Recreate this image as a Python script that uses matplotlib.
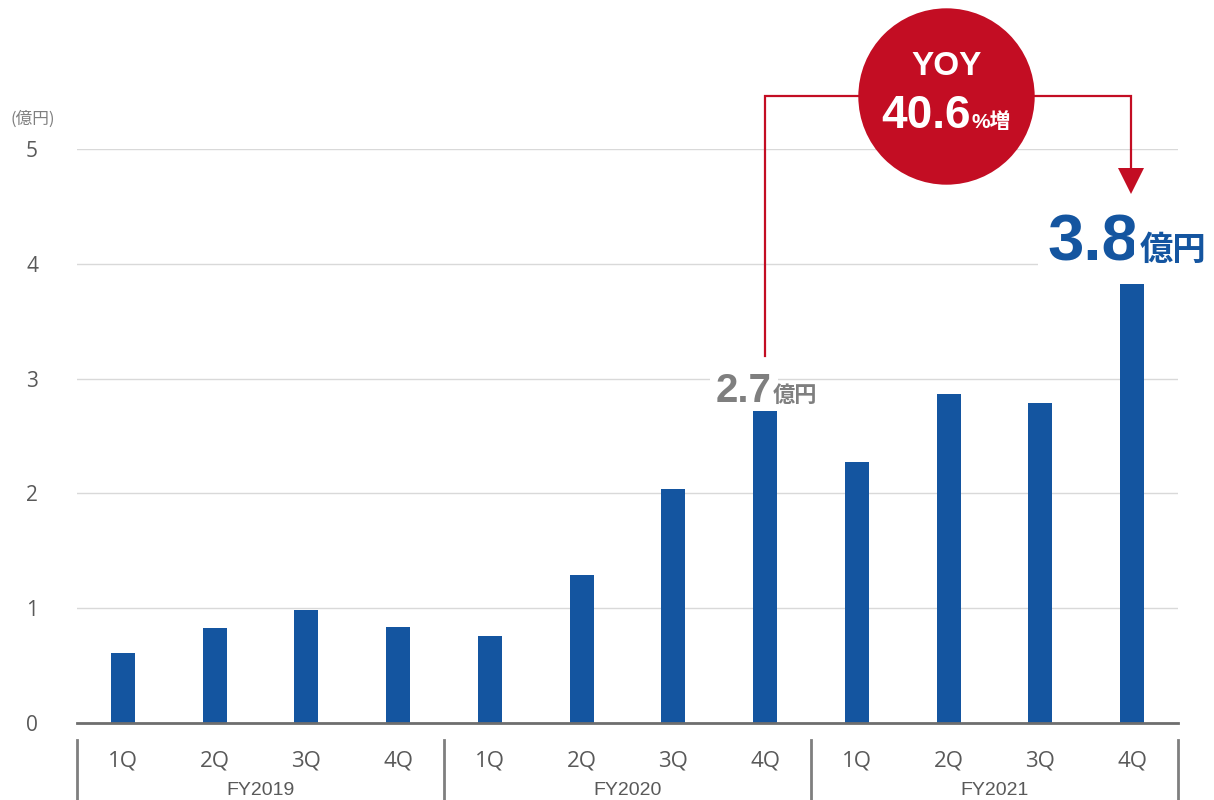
import matplotlib
matplotlib.use("Agg")
import matplotlib.pyplot as plt
from matplotlib.lines import Line2D
import matplotlib.transforms as mtransforms

quarters = ["1Q", "2Q", "3Q", "4Q"] * 3
fiscal_years = ["FY2019", "FY2020", "FY2021"]
values = [0.61, 0.83, 0.98, 0.84, 0.76, 1.29, 2.04, 2.72, 2.27, 2.87, 2.79, 3.82]
yticks = [0, 1, 2, 3, 4, 5]
unit_label = "(億円)"
label_prev = "2.7"
label_curr = "3.8"
yoy_value = "40.6"

BLUE = "#1455a0"
RED = "#c30d23"
GRAY_TXT = "#595959"
CJK = ["Liberation Sans", "Noto Sans CJK JP"]

fig = plt.figure(figsize=(12.14, 8.0), dpi=100)
ax = fig.add_axes([77/1214, 1-723/800, (1178-77)/1214, (723-149)/800])

x = list(range(len(values)))
ax.bar(x, values, width=0.26, color=BLUE, zorder=2)
ax.set_xlim(-0.5, len(values) - 0.5)
ax.set_ylim(0, 5)
ax.set_yticks(yticks)
ax.set_yticklabels([str(v) for v in yticks], fontsize=15, color=GRAY_TXT, family="Open Sans")
ax.tick_params(axis="y", length=0, pad=28)
ax.grid(axis="y", color="#d9d9d9", linewidth=1, zorder=0)
ax.set_axisbelow(True)
for s in ["left", "right", "top"]:
    ax.spines[s].set_visible(False)
ax.spines["bottom"].set_color("#6e6e6e")
ax.spines["bottom"].set_linewidth(2)
ax.spines["bottom"].set_zorder(3)

ax.set_xticks(x)
ax.set_xticklabels(quarters, fontsize=16, color=GRAY_TXT, family="Open Sans")
ax.tick_params(axis="x", length=0, pad=20)

trans = mtransforms.blended_transform_factory(ax.transData, ax.transAxes)
for i, fy in enumerate(fiscal_years):
    ax.text(i*4 + 1.5, -0.118, fy, transform=trans, ha="center", va="center",
            fontsize=14, color=GRAY_TXT, family="Liberation Sans")
for b in range(len(fiscal_years) + 1):
    ax.add_line(Line2D([b*4 - 0.5, b*4 - 0.5], [-0.03, -0.14], transform=trans,
                       color="#7f7f7f", linewidth=2, clip_on=False))

fig.text(10/1214, 1-119/800, unit_label, fontsize=12, color="#7f7f7f",
         family=["Noto Sans CJK JP"], ha="left", va="center")

# Connector line
ax.plot([7, 7, 10.99, 10.99], [3.2, 5.46, 5.46, 4.84], color=RED, linewidth=1.6,
        clip_on=False, zorder=4, solid_joinstyle="miter")
ax.plot([10.99], [4.72], marker="v", markersize=19, color=RED, clip_on=False,
        zorder=4, markeredgewidth=0)
# Circle
ax.plot([8.97], [5.46], marker="o", markersize=127, color=RED, clip_on=False,
        zorder=5, markeredgewidth=0)
ax.text(8.98, 5.645, "YOY", ha="center", va="baseline", fontsize=24, fontweight="bold",
        color="white", family=CJK, zorder=6, clip_on=False)
ax.text(9.24, 5.18, yoy_value, ha="right", va="baseline", fontsize=33, fontweight="bold",
        color="white", family=CJK, zorder=6, clip_on=False)
ax.text(9.25, 5.18, "%増", ha="left", va="baseline", fontsize=15, fontweight="bold",
        color="white", family=CJK, zorder=6, clip_on=False)

# Value labels (below bars, above grid)
bb = dict(boxstyle="square,pad=0.15", facecolor="white", edgecolor="none")
ax.text(7.07, 2.80, label_prev, ha="right", va="baseline", fontsize=29, fontweight="bold",
        color="#7f7f7f", family=CJK, zorder=1.5, bbox=bb)
ax.text(7.08, 2.80, "億円", ha="left", va="baseline", fontsize=16, fontweight="bold",
        color="#7f7f7f", family=CJK, zorder=1.5, bbox=bb)
ax.text(11.07, 4.03, label_curr, ha="right", va="baseline", fontsize=47, fontweight="bold",
        color=BLUE, family=CJK, zorder=1.5, bbox=bb, clip_on=False)
ax.text(11.08, 4.03, "億円", ha="left", va="baseline", fontsize=24, fontweight="bold",
        color=BLUE, family=CJK, zorder=1.5, bbox=bb, clip_on=False)

fig.savefig("out.png", dpi=100)
